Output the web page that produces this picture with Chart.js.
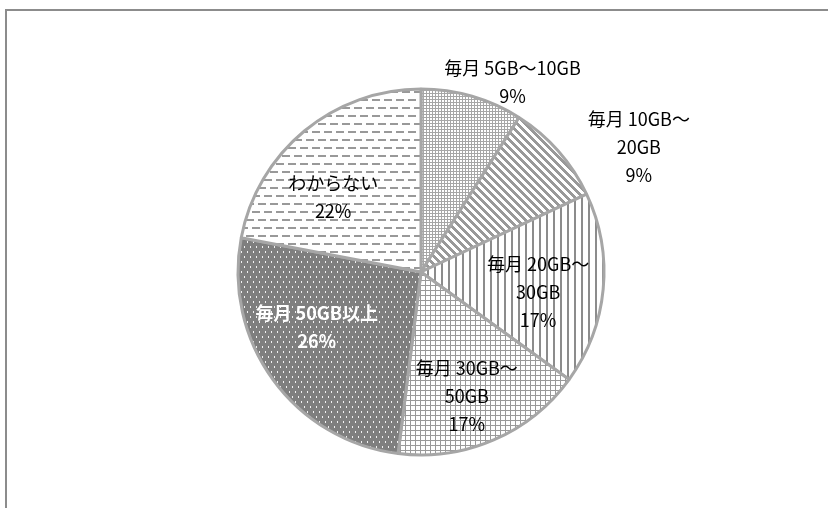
<!DOCTYPE html>
<html lang="ja">
<head>
<meta charset="utf-8">
<title>月間データ通信量</title>
<script src="https://cdn.jsdelivr.net/npm/chart.js@4.4.0/dist/chart.umd.min.js"></script>
<style>
    html, body { margin: 0; padding: 0; background: #fff; overflow: hidden; }
    #wrap { position: relative; width: 828px; height: 508px; overflow: hidden; }
    /* 外枠（右端・下端ははみ出す） */
    #frame {
        position: absolute; left: 5px; top: 9px;
        width: 900px; height: 600px;
        border-top: 2px solid #8c8c8c; border-left: 2px solid #8c8c8c;
    }
    #pie { position: absolute; left: 0; top: 0; }
</style>
</head>
<body>
<div id="wrap">
    <div id="frame"></div>
    <canvas id="pie" width="828" height="508"></canvas>
</div>
<script>
// 区分
const categories = ['毎月 5GB～10GB', '毎月 10GB～20GB', '毎月 20GB～30GB', '毎月 30GB～50GB', '毎月 50GB以上', 'わからない'];
// 割合（%）
const shares = [9, 9, 17, 17, 26, 22];
// ラベルの改行位置
const labelLines = [
    ['毎月 5GB～10GB'],
    ['毎月 10GB～', '20GB'],
    ['毎月 20GB～', '30GB'],
    ['毎月 30GB～', '50GB'],
    ['毎月 50GB以上'],
    ['わからない']
];
// ラベル位置（円の中心からのずれ、半径比）
const labelOffsets = [
    [0.50, -1.04],
    [1.19, -0.68],
    [0.64, 0.11],
    [0.25, 0.68],
    [-0.57, 0.30],
    [-0.48, -0.41]
];
const labelColors = ['#000', '#000', '#000', '#000', '#fff', '#000'];
const labelWeights = ['normal', 'normal', 'normal', 'normal', 'bold', 'normal'];

// 小さなタイルからパターンを作る
function makePattern(w, h, bg, fg, drawFn) {
    const c = document.createElement('canvas');
    c.width = w;
    c.height = h;
    const g = c.getContext('2d');
    g.fillStyle = bg;
    g.fillRect(0, 0, w, h);
    g.fillStyle = fg;
    drawFn(g);
    return document.getElementById('pie').getContext('2d').createPattern(c, 'repeat');
}

const gray = '#8c8c8c';
const fills = [
    // 細かい網目
    makePattern(3, 3, '#fff', '#a6a6a6', g => {
        g.fillRect(0, 0, 3, 1);
        g.fillRect(0, 0, 1, 3);
    }),
    // 右下がりの太い斜線
    makePattern(8, 8, '#fff', '#999', g => {
        for (let y = 0; y < 8; y++) {
            for (let x = 0; x < 8; x++) {
                if (((x - y) % 8 + 8) % 8 < 4) g.fillRect(x, y, 1, 1);
            }
        }
    }),
    // 縦線
    makePattern(7, 7, '#fff', gray, g => {
        g.fillRect(0, 0, 2, 7);
    }),
    // 格子
    makePattern(5, 5, '#fff', '#999', g => {
        g.fillRect(0, 0, 5, 1);
        g.fillRect(0, 0, 1, 5);
    }),
    // 濃い灰色に白い点
    makePattern(6, 10, '#7f7f7f', '#f2f2f2', g => {
        g.fillRect(1, 1, 1, 2);
        g.fillRect(4, 6, 1, 2);
    }),
    // 横破線
    makePattern(12, 16, '#fff', '#999', g => {
        g.fillRect(0, 3, 8, 2);
        g.fillRect(6, 11, 6, 2);
        g.fillRect(0, 11, 2, 2);
    })
];

// ラベル描画
const sliceLabels = {
    id: 'sliceLabels',
    afterDatasetsDraw(chart) {
        const ctx = chart.ctx;
        const meta = chart.getDatasetMeta(0);
        const total = shares.reduce((s, v) => s + v, 0);
        ctx.save();
        ctx.textAlign = 'center';
        ctx.textBaseline = 'middle';
        meta.data.forEach((arc, i) => {
            const r = arc.outerRadius;
            const lines = labelLines[i].concat([Math.round(shares[i] / total * 100) + '%']);
            const lineH = 28;
            const cx = arc.x + labelOffsets[i][0] * r;
            const cy = arc.y + labelOffsets[i][1] * r - (lines.length - 1) * lineH / 2;
            ctx.font = labelWeights[i] + ' 18px "Noto Sans CJK JP", "Noto Sans", sans-serif';
            ctx.fillStyle = labelColors[i];
            lines.forEach((t, k) => ctx.fillText(t, cx, cy + k * lineH));
        });
        ctx.restore();
    }
};

new Chart(document.getElementById('pie'), {
    type: 'pie',
    data: {
        labels: categories,
        datasets: [{
            data: shares,
            backgroundColor: fills,
            borderColor: '#a6a6a6',
            borderWidth: 3,
            hoverOffset: 0
        }]
    },
    options: {
        responsive: false,
        animation: false,
        events: [],
        radius: 183,
        layout: { padding: { left: 20, right: 6, top: 40, bottom: 4 } },
        plugins: {
            legend: { display: false },
            tooltip: { enabled: false }
        }
    },
    plugins: [sliceLabels]
});
</script>
</body>
</html>
